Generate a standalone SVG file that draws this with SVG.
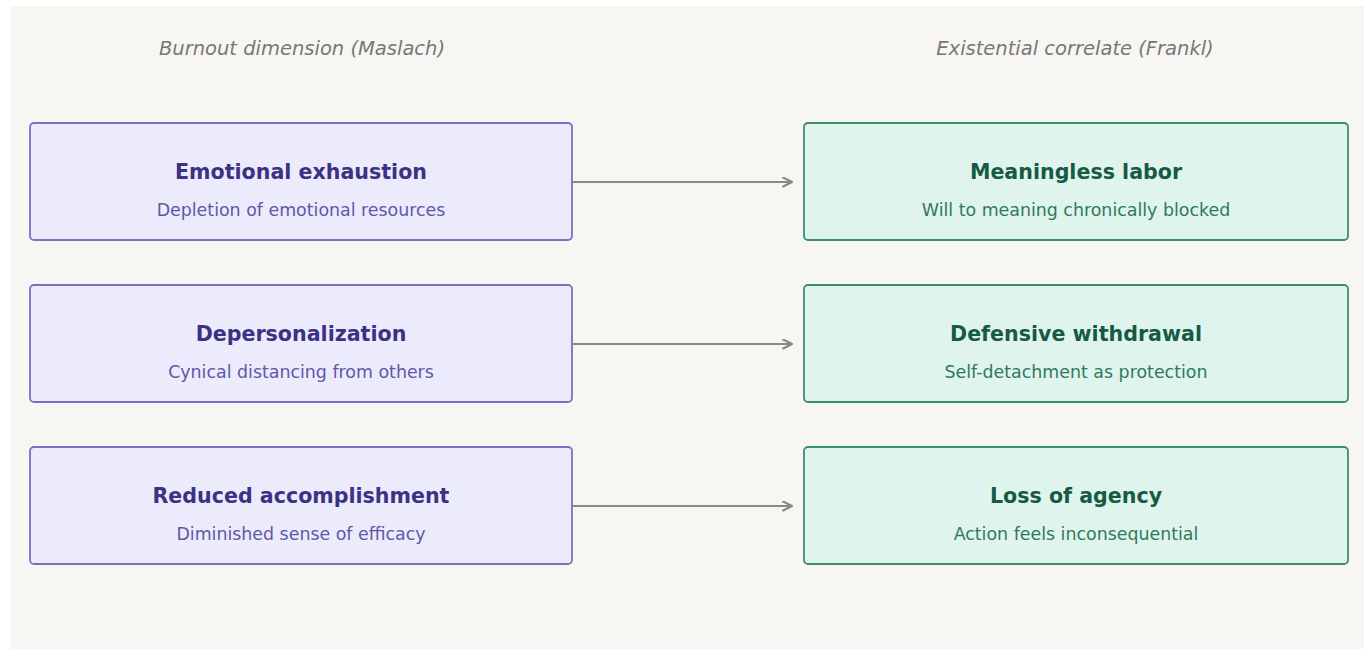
<svg xmlns="http://www.w3.org/2000/svg" width="1372" height="650" viewBox="0 0 1372 650">
<style>
.hdr{font-family:"DejaVu Sans",sans-serif;font-style:italic;font-size:19.5px;fill:#777;text-anchor:middle}
.lbox{fill:#ebebfb;stroke:#7a6fc4;stroke-width:1.8}
.rbox{fill:#e0f4ee;stroke:#3b8d6c;stroke-width:1.8}
.lt{font-family:"DejaVu Sans",sans-serif;font-weight:bold;font-size:20.6px;fill:#3b3185;text-anchor:middle}
.ls{font-family:"DejaVu Sans",sans-serif;font-size:17.4px;fill:#5f57ab;text-anchor:middle}
.rt{font-family:"DejaVu Sans",sans-serif;font-weight:bold;font-size:20.6px;fill:#175a43;text-anchor:middle}
.rs{font-family:"DejaVu Sans",sans-serif;font-size:17.4px;fill:#2f7a5c;text-anchor:middle}
.edge{stroke:#8a8784;stroke-width:2.2;fill:none}
</style>
<defs>
<marker id="arr" viewBox="0 0 10 10" refX="9" refY="5" markerWidth="5" markerHeight="5" orient="auto" markerUnits="strokeWidth">
<path d="M1,1 L9,5 L1,9" fill="none" stroke="#8a8784" stroke-width="2" stroke-linecap="round" stroke-linejoin="round"/>
</marker>
</defs>
<rect x="0" y="0" width="1372" height="650" fill="#ffffff"/>
<rect x="10" y="6" width="1354" height="643" fill="#f8f6f3"/>
<text class="hdr" x="302" y="55">Burnout dimension (Maslach)</text>
<text class="hdr" x="1075" y="55">Existential correlate (Frankl)</text>
<g id="connectors">
<line class="edge" x1="573" y1="182" x2="792" y2="182" marker-end="url(#arr)"/>
<line class="edge" x1="573" y1="344" x2="792" y2="344" marker-end="url(#arr)"/>
<line class="edge" x1="573" y1="506" x2="792" y2="506" marker-end="url(#arr)"/>
</g>
<g id="emotional-exhaustion">
<rect class="lbox" x="30" y="123" width="542" height="117" rx="4"/>
<text class="lt" x="301" y="179">Emotional exhaustion</text>
<text class="ls" x="301" y="216">Depletion of emotional resources</text>
</g>
<g id="depersonalization">
<rect class="lbox" x="30" y="285" width="542" height="117" rx="4"/>
<text class="lt" x="301" y="341">Depersonalization</text>
<text class="ls" x="301" y="378">Cynical distancing from others</text>
</g>
<g id="reduced-accomplishment">
<rect class="lbox" x="30" y="447" width="542" height="117" rx="4"/>
<text class="lt" x="301" y="503">Reduced accomplishment</text>
<text class="ls" x="301" y="540">Diminished sense of efficacy</text>
</g>
<g id="meaningless-labor">
<rect class="rbox" x="804" y="123" width="544" height="117" rx="4"/>
<text class="rt" x="1076" y="179">Meaningless labor</text>
<text class="rs" x="1076" y="216">Will to meaning chronically blocked</text>
</g>
<g id="defensive-withdrawal">
<rect class="rbox" x="804" y="285" width="544" height="117" rx="4"/>
<text class="rt" x="1076" y="341">Defensive withdrawal</text>
<text class="rs" x="1076" y="378">Self-detachment as protection</text>
</g>
<g id="loss-of-agency">
<rect class="rbox" x="804" y="447" width="544" height="117" rx="4"/>
<text class="rt" x="1076" y="503">Loss of agency</text>
<text class="rs" x="1076" y="540">Action feels inconsequential</text>
</g>
</svg>
